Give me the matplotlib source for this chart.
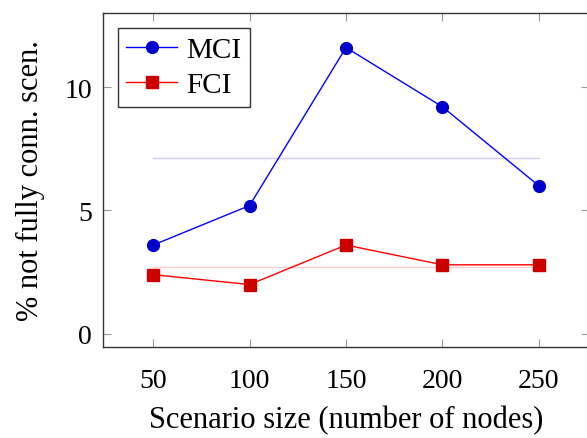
import numpy as np
import matplotlib
matplotlib.use('Agg')
import matplotlib.pyplot as plt

plt.rcParams['font.family'] = ['Liberation Serif', 'DejaVu Serif']
plt.rcParams['mathtext.fontset'] = 'stix'

# data
sizes = [50, 100, 150, 200, 250]
mci = [3.6, 5.2, 11.6, 9.2, 6.0]
fci = [2.4, 2.0, 3.6, 2.8, 2.8]

fig = plt.figure(figsize=(5.87, 4.39), dpi=100)
# right edge of the axes lies just outside the picture, as in the original
ax = fig.add_axes([103 / 587, 1 - 348 / 439, (589 - 103) / 587, (348 - 14) / 439])

# mean lines
ax.plot([sizes[0], sizes[-1]], [np.mean(mci)] * 2, color='#ccccff', lw=1.0, zorder=1)
ax.plot([sizes[0], sizes[-1]], [np.mean(fci)] * 2, color='#ffcccc', lw=1.0, zorder=1)

ax.plot(sizes, mci, color='#0000ff', lw=1.0, marker='o', markersize=8.5,
        markerfacecolor='#0000cc', markeredgecolor='#0000cc', label='MCI', zorder=3)
ax.plot(sizes, fci, color='#ff0000', lw=1.0, marker='s', markersize=8,
        markerfacecolor='#cc0000', markeredgecolor='#cc0000', label='FCI', zorder=3)

ax.set_xlim(24, 276)
ax.set_ylim(-0.53, 13.0)
ax.set_xticks(sizes)
ax.set_yticks([0, 5, 10])
ax.tick_params(direction='in', length=6, width=0.8, color='#999999',
               top=True, right=True, labelsize=20)
ax.tick_params(axis='x', pad=15)
ax.tick_params(axis='y', pad=8)
for s in ax.spines.values():
    s.set_linewidth(1.0)
    s.set_color('#333333')

ax.set_xlabel('Scenario size (number of nodes)', fontsize=22, labelpad=9)
ax.set_ylabel('% not fully conn. scen.', fontsize=22, labelpad=14)

leg = ax.legend(loc='upper left', fontsize=21, frameon=True, fancybox=False,
                edgecolor='black', handlelength=1.75, borderpad=0.3,
                labelspacing=0.3, handletextpad=0.3, borderaxespad=0.5)
leg.get_frame().set_linewidth(1.0)

fig.savefig('out.png', dpi=100)
